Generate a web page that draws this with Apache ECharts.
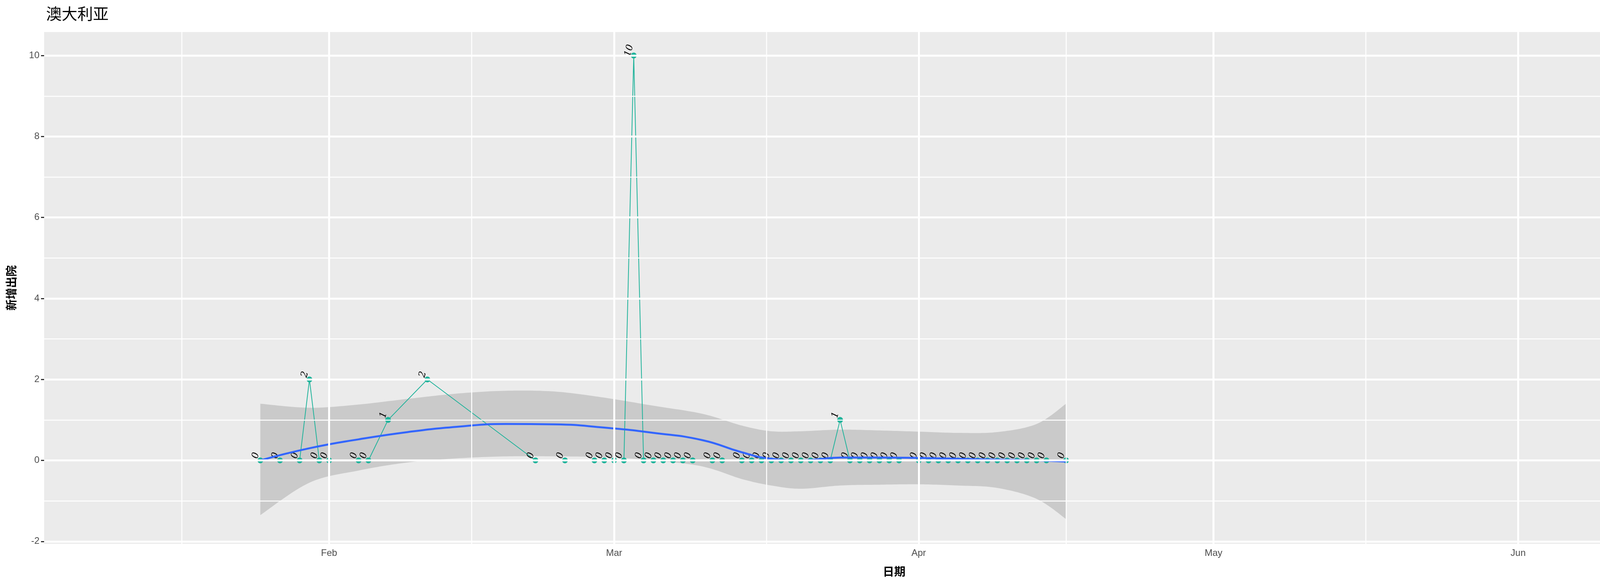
<!DOCTYPE html>
<html><head><meta charset="utf-8">
<script src="https://cdn.jsdelivr.net/npm/echarts@6/dist/echarts.min.js"></script>
<style>html,body{margin:0;padding:0;background:#fff}#c{width:4500px;height:1500px}</style>
</head><body><div id="c"></div>
<script>
const dates = ['2020-01-25','2020-01-27','2020-01-29','2020-01-30','2020-01-31','2020-02-01','2020-02-04','2020-02-05','2020-02-07','2020-02-11','2020-02-22','2020-02-25','2020-02-28','2020-02-29','2020-03-01','2020-03-02','2020-03-03','2020-03-04','2020-03-05','2020-03-06','2020-03-07','2020-03-08','2020-03-09','2020-03-11','2020-03-12','2020-03-14','2020-03-15','2020-03-16','2020-03-17','2020-03-18','2020-03-19','2020-03-20','2020-03-21','2020-03-22','2020-03-23','2020-03-24','2020-03-25','2020-03-26','2020-03-27','2020-03-28','2020-03-29','2020-03-30','2020-04-01','2020-04-02','2020-04-03','2020-04-04','2020-04-05','2020-04-06','2020-04-07','2020-04-08','2020-04-09','2020-04-10','2020-04-11','2020-04-12','2020-04-13','2020-04-14','2020-04-16'];
const values = [0,0,0,2,0,0,0,0,1,2,0,0,0,0,0,0,10,0,0,0,0,0,0,0,0,0,0,0,0,0,0,0,0,0,0,1,0,0,0,0,0,0,0,0,0,0,0,0,0,0,0,0,0,0,0,0,0];
const smoothDates = ['2020-01-25','2020-01-30','2020-02-04','2020-02-09','2020-02-14','2020-02-19','2020-02-24','2020-02-29','2020-03-05','2020-03-10','2020-03-14','2020-03-17','2020-03-20','2020-03-24','2020-03-28','2020-04-01','2020-04-05','2020-04-09','2020-04-13','2020-04-16'];
const smoothFit = [0,0.30,0.52,0.70,0.83,0.90,0.89,0.81,0.68,0.50,0.20,0.04,0.0,0.07,0.07,0.06,0.04,0.02,0.0,-0.03];
const smoothUpper = [1.40,1.30,1.38,1.52,1.65,1.72,1.70,1.55,1.35,1.15,0.86,0.72,0.72,0.76,0.74,0.71,0.68,0.70,0.90,1.40];
const smoothLower = [-1.35,-0.55,-0.25,-0.05,0.05,0.10,0.10,0.08,0.0,-0.15,-0.46,-0.62,-0.70,-0.62,-0.60,-0.59,-0.62,-0.68,-0.95,-1.45];
const xMajor = ['2020-02-01','2020-03-01','2020-04-01','2020-05-01','2020-06-01'];
const xMinor = ['2020-01-17','2020-02-15T12','2020-03-16T12','2020-04-16','2020-05-16T12','2020-06-16'];
const yMajor = [-2,0,2,4,6,8,10];
const yMinor = [-1,1,3,5,7,9];
const monthNames = ['Jan','Feb','Mar','Apr','May','Jun','Jul'];

const chart = echarts.init(document.getElementById('c'));
const ts = d => Date.UTC(+d.slice(0,4), +d.slice(5,7)-1, +d.slice(8,10), d.length > 10 ? +d.slice(11,13) : 0);
const gl = (w) => ({ color:'#FFFFFF', width:w, type:'solid' });
const marks = [].concat(
  xMinor.map(d => ({ xAxis: ts(d), lineStyle: gl(2.5) })),
  yMinor.map(v => ({ yAxis: v, lineStyle: gl(2.5) })),
  xMajor.map(d => ({ xAxis: ts(d), lineStyle: gl(5) })),
  yMajor.map(v => ({ yAxis: v, lineStyle: gl(5) }))
);
const bandData = smoothDates.map((d,i)=>[ts(d), smoothLower[i], smoothUpper[i]]);
// Catmull-Rom densify in pixel space (rendering only)
function dense(p){
  const out=[];
  for(let i=0;i<p.length-1;i++){
    const p0=p[Math.max(0,i-1)],p1=p[i],p2=p[i+1],p3=p[Math.min(p.length-1,i+2)];
    for(let k=0;k<16;k++){
      const t=k/16,t2=t*t,t3=t2*t;
      const f=(a,b,c,d)=>0.5*((2*b)+(-a+c)*t+(2*a-5*b+4*c-d)*t2+(-a+3*b-3*c+d)*t3);
      out.push([f(p0[0],p1[0],p2[0],p3[0]),f(p0[1],p1[1],p2[1],p3[1])]);
    }
  }
  out.push(p[p.length-1]);
  return out;
}
chart.setOption({
  animation:false,
  backgroundColor:'#FFFFFF',
  title:{ text:'澳大利亚', left:113, top:10, textStyle:{ fontFamily:'Noto Sans CJK SC', fontSize:40, fontWeight:'normal', color:'#000' } },
  grid:{ left:113, right:35, top:82, bottom:108, show:true, backgroundColor:'#EBEBEB', borderWidth:0 },
  xAxis:{ type:'value', min:ts('2020-01-03'), max:ts('2020-06-24'),
    name:'日期', nameLocation:'middle', nameGap:56,
    nameTextStyle:{ fontFamily:'Noto Sans CJK SC', fontSize:29, fontWeight:'bold', color:'#000' },
    axisLine:{ show:false }, splitLine:{ show:false },
    axisTick:{ show:true, customValues: xMajor.map(ts), length:8, lineStyle:{ color:'#333', width:3 } },
    axisLabel:{ customValues: xMajor.map(ts), formatter: v => monthNames[new Date(v).getUTCMonth()], fontFamily:'Liberation Sans', fontSize:24, color:'#4D4D4D', margin:12 } },
  yAxis:{ type:'value', min:-2.06, max:10.58,
    name:'新增出院', nameLocation:'middle', nameGap:70, nameRotate:90,
    nameTextStyle:{ fontFamily:'Noto Sans CJK SC', fontSize:29, fontWeight:'bold', color:'#000' },
    axisLine:{ show:false }, splitLine:{ show:false },
    axisTick:{ show:true, customValues: yMajor, length:8, lineStyle:{ color:'#333', width:3 } },
    axisLabel:{ customValues: yMajor, fontFamily:'Liberation Sans', fontSize:24, color:'#4D4D4D', margin:12 } },
  series:[
    { type:'line', data:[], silent:true, z:1, markLine:{ silent:true, symbol:['none','none'], label:{show:false}, data:marks } },
    { type:'custom', z:2, silent:true, data: bandData,
      encode:{ x:0, y:[1,2] },
      renderItem: function(params, api){
        if (params.dataIndex !== 0) return null;
        const up = dense(bandData.map(r => api.coord([r[0], r[2]])));
        const lo = dense(bandData.map(r => api.coord([r[0], r[1]])));
        return { type:'polygon', shape:{ points: up.concat(lo.slice().reverse()) },
            style:{ fill:'rgba(153,153,153,0.4)' } };
      } },
    { type:'line', z:3, symbol:'circle', symbolSize:15, showAllSymbol:true,
      itemStyle:{ color:'#20B39B' }, lineStyle:{ color:'#20B39B', width:2 },
      label:{ show:true, position:'top', distance:2, rotate:75, fontFamily:'DejaVu Serif', fontStyle:'italic', fontSize:24, color:'#000' },
      data: dates.map((d,i)=>[ts(d), values[i]]) },
    { type:'line', z:4, smooth:true, symbol:'none', lineStyle:{ color:'#3366FF', width:5 },
      data: smoothDates.map((d,i)=>[ts(d), smoothFit[i]]) }
  ]
});
</script></body></html>
